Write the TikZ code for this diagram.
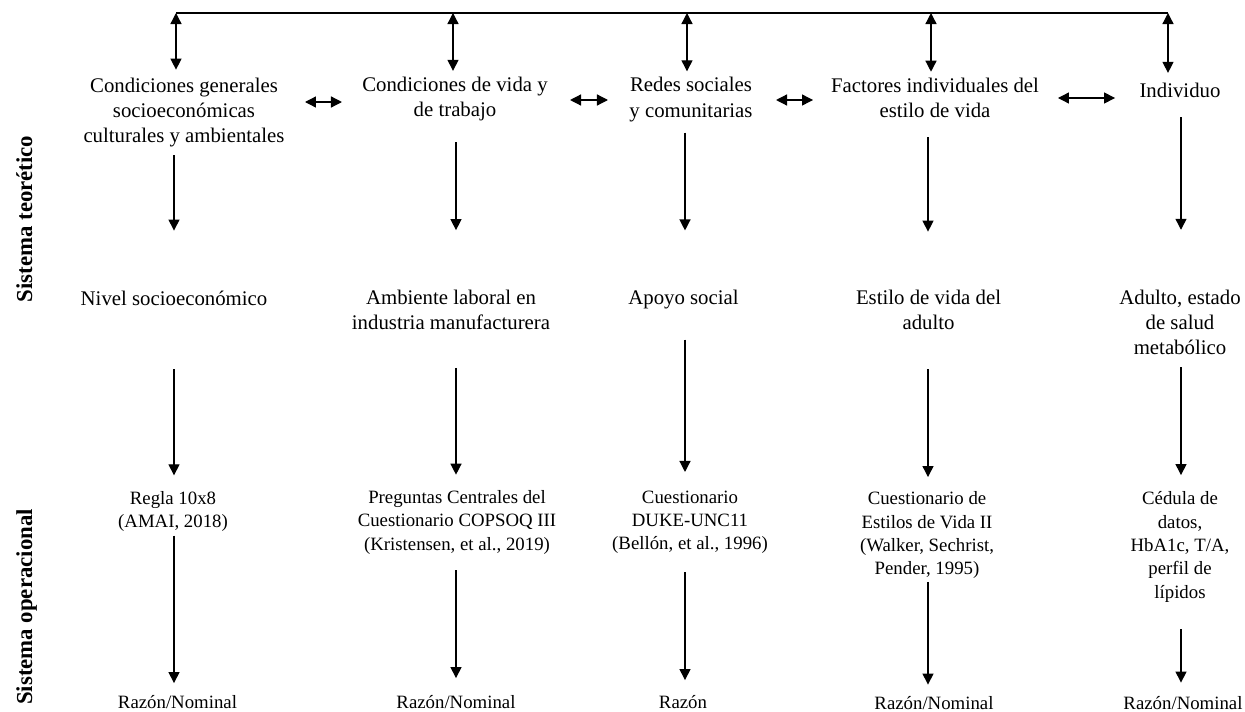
\documentclass[tikz,border=0pt]{standalone}
\usepackage{fontspec}
\setmainfont{Liberation Serif}
\usetikzlibrary{arrows.meta}
\begin{document}
\begin{tikzpicture}[x=1pt,y=-1pt,
  every node/.style={inner sep=0pt, outer sep=0pt, align=center},
  big/.style={font=\fontsize{20.8}{25.3}\selectfont, yshift=-2.5pt},
  small/.style={font=\fontsize{18.8}{23.3}\selectfont, yshift=-2.5pt},
  side/.style={font=\fontsize{22.8}{27}\selectfont\bfseries, rotate=90, anchor=base},
  link/.style={line width=1.3pt},
  arr/.style={link, -{Triangle[width=11pt,length=11pt]}},
  dbl/.style={link, {Triangle[width=11pt,length=11pt]}-{Triangle[width=11pt,length=11pt]}},
]
\useasboundingbox (0,0) rectangle (1245,712);

% row 1
\node[big] (c1) at (184,109.9) {Condiciones generales\\socioeconómicas\\culturales y ambientales};
\node[big] (c2) at (455,96.4) {Condiciones de vida y\\de trabajo};
\node[big] (c3) at (691,96.9) {Redes sociales\\y comunitarias};
\node[big] (c4) at (935,95.2) {Factores individuales del\\estilo de vida};
\node[big] (c5) at (1180,87.7) {Individuo};
% row 2
\node[big] (n1) at (174,295.5) {Nivel socioeconómico};
\node[big] (n2) at (451,307.7) {Ambiente laboral en\\industria manufacturera};
\node[big] (n3) at (683.5,297.5) {Apoyo social};
\node[big] (n4) at (928.5,307.2) {Estilo de vida del\\adulto};
\node[big] (n5) at (1180,320) {Adulto, estado\\de salud\\metabólico};
% row 3
\node[small] (m1) at (173,508.8) {Regla 10x8\\(AMAI, 2018)};
\node[small] (m2) at (457,519.8) {Preguntas Centrales del\\Cuestionario COPSOQ III\\(Kristensen, et al., 2019)};
\node[small] (m3) at (690,519.8) {Cuestionario\\DUKE-UNC11\\(Bellón, et al., 1996)};
\node[small] (m4) at (927,532.8) {Cuestionario de\\Estilos de Vida II\\(Walker, Sechrist,\\Pender, 1995)};
\node[small] (m5) at (1180,544.5) {Cédula de\\datos,\\HbA1c, T/A,\\perfil de\\lípidos};
% row 4
\node[small] (r1) at (177.5,700) {Razón/Nominal};
\node[small] (r2) at (456,700) {Razón/Nominal};
\node[small] (r3) at (683,700) {Razón};
\node[small] (r4) at (934,700.5) {Razón/Nominal};
\node[small] (r5) at (1183,700.5) {Razón/Nominal};
% side labels
\node[side] (st) at (32,219) {Sistema teorético};
\node[side] (so) at (32,607) {Sistema operacional};

% top line
\coordinate (t1) at (176,13);
\coordinate (t2) at (453,13);
\coordinate (t3) at (687,13);
\coordinate (t4) at (931,13);
\coordinate (t5) at (1168,13);
\draw[link] (t1) -- (t5);
\draw[dbl, shorten >=8pt] (t1) -- (c1.north -| t1);
\draw[dbl, shorten >=6pt] (t2) -- (c2.north -| t2);
\draw[dbl, shorten >=6pt] (t3) -- (c3.north -| t3);
\draw[dbl, shorten >=6pt] (t4) -- (c4.north -| t4);
\draw[dbl, shorten >=10pt] (t5) -- (c5.north -| t5);

% horizontal links
\coordinate (h1) at (0,102);
\coordinate (h2) at (0,100);
\coordinate (h3) at (0,100);
\coordinate (h4) at (0,98);
\draw[dbl, shorten <=20.5pt, shorten >=20.3pt] (c1.east |- h1) -- (c2.west |- h1);
\draw[dbl, shorten <=22.3pt, shorten >=21.5pt] (c2.east |- h2) -- (c3.west |- h2);
\draw[dbl, shorten <=23.5pt, shorten >=18pt] (c3.east |- h3) -- (c4.west |- h3);
\draw[dbl, shorten <=19pt, shorten >=24.5pt] (c4.east |- h4) -- (c5.west |- h4);

% column axes
\coordinate (v1) at (174,0);
\coordinate (v2) at (456,0);
\coordinate (v3) at (685,0);
\coordinate (v4) at (928,0);
\coordinate (v5) at (1181,0);

% row 1 -> row 2
\draw[arr, shorten <=8.2pt, shorten >=60.1pt] (c1.south -| v1) -- (n1.north -| v1);
\draw[arr, shorten <=21.2pt, shorten >=60.1pt] (c2.south -| v2) -- (n2.north -| v2);
\draw[arr, shorten <=11.2pt, shorten >=60.1pt] (c3.south -| v3) -- (n3.north -| v3);
\draw[arr, shorten <=19.7pt, shorten >=58.1pt] (c4.south -| v4) -- (n4.north -| v4);
\draw[arr, shorten <=19.7pt, shorten >=60.1pt] (c5.south -| v5) -- (n5.north -| v5);
% row 2 -> row 3
\draw[arr, shorten <=63.7pt, shorten >=15.8pt] (n1.south -| v1) -- (m1.north -| v1);
\draw[arr, shorten <=37.7pt, shorten >=15.8pt] (n2.south -| v2) -- (m2.north -| v2);
\draw[arr, shorten <=30.2pt, shorten >=18.8pt] (n3.south -| v3) -- (m3.north -| v3);
\draw[arr, shorten <=39.7pt, shorten >=14.8pt] (n4.south -| v4) -- (m4.north -| v4);
\draw[arr, shorten <=12.1pt, shorten >=16.8pt] (n5.south -| v5) -- (m5.north -| v5);
% row 3 -> row 4
\draw[arr, shorten <=4.2pt, shorten >=12.8pt] (m1.south -| v1) -- (r1.north -| v1);
\draw[arr, shorten <=16.2pt, shorten >=17.8pt] (m2.south -| v2) -- (r2.north -| v2);
\draw[arr, shorten <=18.2pt, shorten >=15.8pt] (m3.south -| v3) -- (r3.north -| v3);
\draw[arr, shorten <=3.2pt, shorten >=11.8pt] (m4.south -| v4) -- (r4.north -| v4);
\draw[arr, shorten <=26.9pt, shorten >=13.8pt] (m5.south -| v5) -- (r5.north -| v5);
\end{tikzpicture}
\end{document}
